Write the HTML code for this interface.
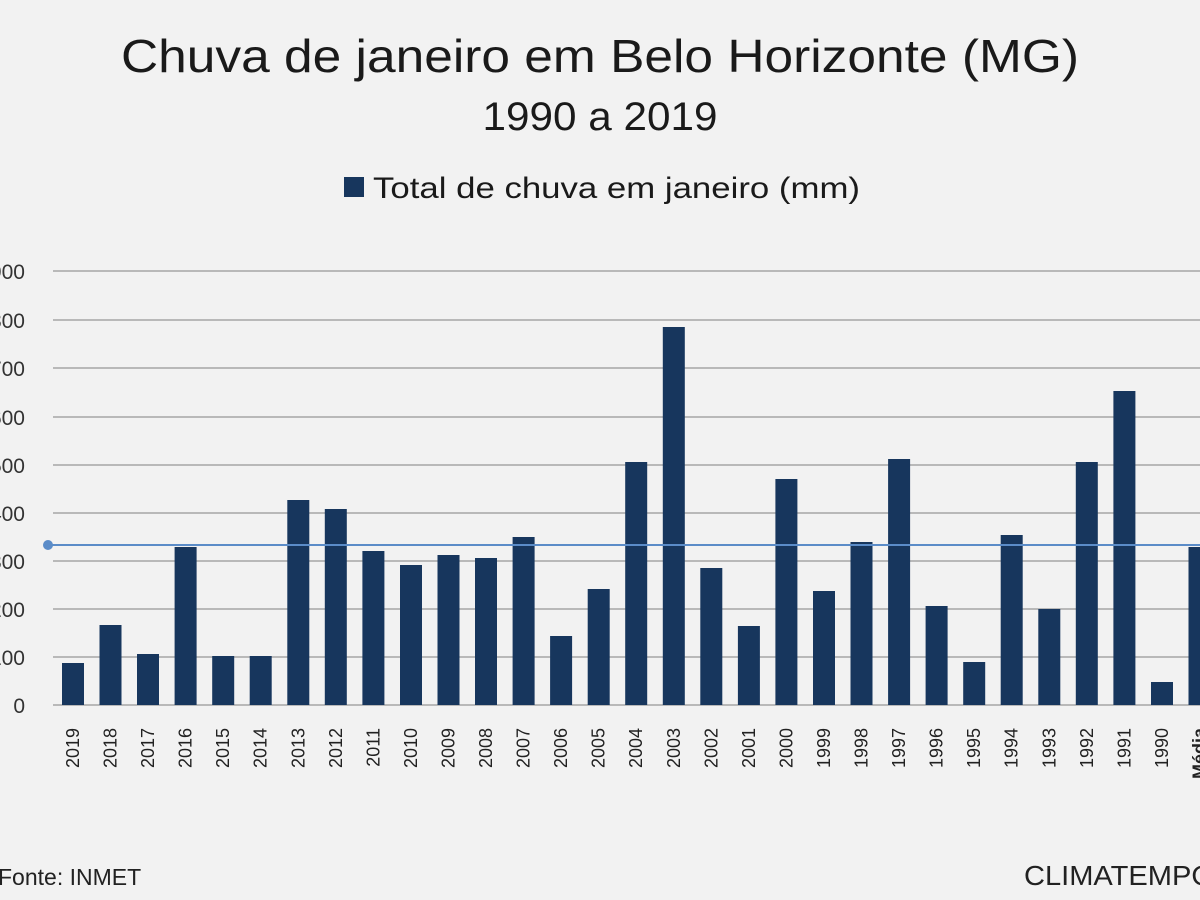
<!DOCTYPE html>
<html><head><meta charset="utf-8"><style>body{margin:0;background:#f2f2f2}svg{display:block}</style></head><body>
<svg width="1200" height="900" xmlns="http://www.w3.org/2000/svg" font-family="Liberation Sans, sans-serif">
<rect width="1200" height="900" fill="#f2f2f2"/>
<text x="600" y="72" font-size="46" text-anchor="middle" textLength="958" lengthAdjust="spacingAndGlyphs" fill="#1a1a1a">Chuva de janeiro em Belo Horizonte (MG)</text>
<text x="600" y="130" font-size="40" text-anchor="middle" textLength="235" lengthAdjust="spacingAndGlyphs" fill="#1a1a1a">1990 a 2019</text>
<rect x="344" y="177" width="20" height="20" fill="#17365d"/>
<text x="373" y="198" font-size="30" textLength="487" lengthAdjust="spacingAndGlyphs" fill="#1a1a1a">Total de chuva em janeiro (mm)</text>
<g stroke="#a6a6a6" stroke-width="1.5">
<line x1="53" y1="271" x2="1200" y2="271"/><line x1="53" y1="320" x2="1200" y2="320"/><line x1="53" y1="368" x2="1200" y2="368"/><line x1="53" y1="417" x2="1200" y2="417"/><line x1="53" y1="465" x2="1200" y2="465"/><line x1="53" y1="513" x2="1200" y2="513"/><line x1="53" y1="561" x2="1200" y2="561"/><line x1="53" y1="609" x2="1200" y2="609"/><line x1="53" y1="657" x2="1200" y2="657"/><line x1="53" y1="705" x2="1200" y2="705"/>
</g>
<g font-size="21" fill="#333" text-anchor="end">
<text x="25" y="279">900</text><text x="25" y="328">800</text><text x="25" y="376">700</text><text x="25" y="425">600</text><text x="25" y="473">500</text><text x="25" y="521">400</text><text x="25" y="569">300</text><text x="25" y="617">200</text><text x="25" y="665">100</text><text x="25" y="713">0</text>
</g>
<g fill="#17365d">
<rect x="62" y="663" width="22" height="42"/>
<rect x="99.5" y="625" width="22" height="80"/>
<rect x="137" y="654" width="22" height="51"/>
<rect x="174.6" y="547" width="22" height="158"/>
<rect x="212.2" y="656" width="22" height="49"/>
<rect x="249.7" y="656" width="22" height="49"/>
<rect x="287.3" y="500" width="22" height="205"/>
<rect x="324.8" y="509" width="22" height="196"/>
<rect x="362.4" y="551" width="22" height="154"/>
<rect x="400" y="565" width="22" height="140"/>
<rect x="437.5" y="555" width="22" height="150"/>
<rect x="475" y="558" width="22" height="147"/>
<rect x="512.6" y="537" width="22" height="168"/>
<rect x="550.1" y="636" width="22" height="69"/>
<rect x="587.7" y="589" width="22" height="116"/>
<rect x="625.2" y="462" width="22" height="243"/>
<rect x="662.8" y="327" width="22" height="378"/>
<rect x="700.3" y="568" width="22" height="137"/>
<rect x="737.9" y="626" width="22" height="79"/>
<rect x="775.4" y="479" width="22" height="226"/>
<rect x="813" y="591" width="22" height="114"/>
<rect x="850.5" y="542" width="22" height="163"/>
<rect x="888.1" y="459" width="22" height="246"/>
<rect x="925.6" y="606" width="22" height="99"/>
<rect x="963.2" y="662" width="22" height="43"/>
<rect x="1000.7" y="535" width="22" height="170"/>
<rect x="1038.3" y="609" width="22" height="96"/>
<rect x="1075.8" y="462" width="22" height="243"/>
<rect x="1113.4" y="391" width="22" height="314"/>
<rect x="1151" y="682" width="22" height="23"/>
<rect x="1188.5" y="547" width="22" height="158"/>
</g>
<line x1="48" y1="545" x2="1200" y2="545" stroke="#5b8cc8" stroke-width="2"/>
<circle cx="48" cy="545" r="5" fill="#5b8cc8"/>
<g font-size="18" fill="#222" text-anchor="end">
<text transform="translate(79,728) rotate(-90)">2019</text>
<text transform="translate(116.5,728) rotate(-90)">2018</text>
<text transform="translate(154,728) rotate(-90)">2017</text>
<text transform="translate(191.6,728) rotate(-90)">2016</text>
<text transform="translate(229.2,728) rotate(-90)">2015</text>
<text transform="translate(266.7,728) rotate(-90)">2014</text>
<text transform="translate(304.3,728) rotate(-90)">2013</text>
<text transform="translate(341.8,728) rotate(-90)">2012</text>
<text transform="translate(379.4,728) rotate(-90)">2011</text>
<text transform="translate(417,728) rotate(-90)">2010</text>
<text transform="translate(454.5,728) rotate(-90)">2009</text>
<text transform="translate(492,728) rotate(-90)">2008</text>
<text transform="translate(529.6,728) rotate(-90)">2007</text>
<text transform="translate(567.1,728) rotate(-90)">2006</text>
<text transform="translate(604.7,728) rotate(-90)">2005</text>
<text transform="translate(642.2,728) rotate(-90)">2004</text>
<text transform="translate(679.8,728) rotate(-90)">2003</text>
<text transform="translate(717.3,728) rotate(-90)">2002</text>
<text transform="translate(754.9,728) rotate(-90)">2001</text>
<text transform="translate(792.4,728) rotate(-90)">2000</text>
<text transform="translate(830,728) rotate(-90)">1999</text>
<text transform="translate(867.5,728) rotate(-90)">1998</text>
<text transform="translate(905.1,728) rotate(-90)">1997</text>
<text transform="translate(942.6,728) rotate(-90)">1996</text>
<text transform="translate(980.2,728) rotate(-90)">1995</text>
<text transform="translate(1017.7,728) rotate(-90)">1994</text>
<text transform="translate(1055.3,728) rotate(-90)">1993</text>
<text transform="translate(1092.8,728) rotate(-90)">1992</text>
<text transform="translate(1130.4,728) rotate(-90)">1991</text>
<text transform="translate(1168,728) rotate(-90)">1990</text>
<text transform="translate(1205.5,728) rotate(-90)" font-weight="bold">Média</text>
</g>
<text x="-2" y="885" font-size="23" fill="#222">Fonte: INMET</text>
<text x="1024" y="885" font-size="28" fill="#222" textLength="190" lengthAdjust="spacingAndGlyphs">CLIMATEMPO</text>
</svg>
</body></html>
